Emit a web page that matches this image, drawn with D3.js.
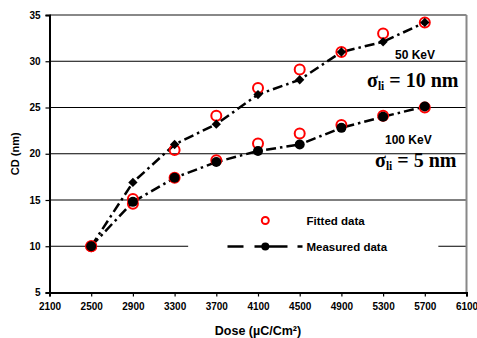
<!DOCTYPE html>
<html>
<head>
<meta charset="utf-8">
<script src="https://cdn.jsdelivr.net/npm/d3@7"></script>
<style>
  body { margin: 0; background: #fff; }
  text { font-family: Arial, "Liberation Sans", sans-serif; font-weight: bold; }
  text.serif { font-family: "Liberation Serif", "Times New Roman", serif; }
</style>
</head>
<body>
<div id="chart"></div>
<script>
const doses = [2500, 2900, 3300, 3700, 4100, 4500, 4900, 5300, 5700];
const measured50 = [10, 16.9, 21.0, 23.2, 26.4, 28.0, 31.0, 32.1, 34.2];
const fitted50 = [10, 14.6, 20.4, 24.1, 27.1, 29.1, 31.0, 33.0, 34.2];
const measured100 = [10, 14.8, 17.4, 19.1, 20.3, 21.0, 22.8, 24.0, 25.1];
const fitted100 = [10, 15.1, 17.4, 19.3, 21.1, 22.2, 23.1, 24.1, 25.0];
const xTicks = [2100, 2500, 2900, 3300, 3700, 4100, 4500, 4900, 5300, 5700, 6100];
const yTicks = [5, 10, 15, 20, 25, 30, 35];

const W = 477, H = 338;
const margin = { top: 15, right: 10.5, bottom: 45.5, left: 49.5 };
const width = W - margin.left - margin.right,
      height = H - margin.top - margin.bottom;

const svg = d3.select("#chart").append("svg")
    .attr("width", W).attr("height", H);
const g = svg.append("g")
    .attr("transform", `translate(${margin.left},${margin.top})`);

const x = d3.scaleLinear().domain([2100, 6100]).range([0, width]);
const y = d3.scaleLinear().domain([5, 35]).range([height, 0]);

// gridlines
g.selectAll(".grid")
    .data(yTicks.filter(d => d > 5 && d < 35))
    .join("line")
    .attr("x1", 0).attr("x2", width)
    .attr("y1", d => y(d)).attr("y2", d => y(d))
    .attr("stroke", "#000").attr("stroke-width", 1);

// top and right border
g.append("line").attr("x1", 0).attr("x2", width).attr("y1", y(35)).attr("y2", y(35))
    .attr("stroke", "#888").attr("stroke-width", 2);
g.append("line").attr("x1", width).attr("x2", width).attr("y1", 0).attr("y2", height)
    .attr("stroke", "#888").attr("stroke-width", 2);

// axes
const xAxis = g.append("g").attr("transform", `translate(0,${height})`)
    .call(d3.axisBottom(x).tickValues(xTicks).tickFormat(d3.format("d")).tickSizeOuter(0).tickSize(4).tickPadding(6));
const yAxis = g.append("g")
    .call(d3.axisLeft(y).tickValues(yTicks).tickSizeOuter(0).tickSize(4).tickPadding(5));
[xAxis, yAxis].forEach(a => {
    a.select(".domain").attr("stroke", "#000").attr("stroke-width", 2);
    a.selectAll(".tick line").attr("stroke", "#000").attr("stroke-width", 1.2);
    a.selectAll("text").style("font-size", "10px").attr("fill", "#000");
});

// legend box (covers gridline)
const legend = g.append("g");
legend.append("rect")
    .attr("x", x(3430)).attr("y", y(14.2))
    .attr("width", x(5830) - x(3430)).attr("height", y(6) - y(14.2))
    .attr("fill", "#fff");

// series
const line = d3.line().x((d, i) => x(doses[i])).y(d => y(d));
const dash = "10,4,2.5,4";

[measured50, measured100].forEach(s => {
    g.append("path").datum(s).attr("d", line)
        .attr("fill", "none").attr("stroke", "#000")
        .attr("stroke-width", 2.5).attr("stroke-dasharray", dash);
});

[fitted50, fitted100].forEach(s => {
    g.selectAll(null).data(s).join("circle")
        .attr("cx", (d, i) => x(doses[i])).attr("cy", d => y(d))
        .attr("r", 5).attr("fill", "none")
        .attr("stroke", "#f00").attr("stroke-width", 2);
});

g.selectAll(null).data(measured50).join("path")
    .attr("transform", (d, i) => `translate(${x(doses[i])},${y(d)})`)
    .attr("d", d3.symbol(d3.symbolDiamond2, 55))
    .attr("fill", "#000");

g.selectAll(null).data(measured100).join("circle")
    .attr("cx", (d, i) => x(doses[i])).attr("cy", d => y(d))
    .attr("r", 5).attr("fill", "#000");

// legend content
legend.append("circle").attr("cx", x(4170)).attr("cy", 205.5)
    .attr("r", 3.5).attr("fill", "none").attr("stroke", "#f00").attr("stroke-width", 2);
legend.append("text").attr("x", 257).attr("y", 209.5)
    .style("font-size", "11.5px").text("Fitted data");
legend.append("line").attr("x1", 178).attr("x2", 253).attr("y1", 231.5).attr("y2", 231.5)
    .attr("stroke", "#000").attr("stroke-width", 2.5).attr("stroke-dasharray", "16,11,33,10");
legend.append("circle").attr("cx", x(4170)).attr("cy", 231.5).attr("r", 4).attr("fill", "#000");
legend.append("text").attr("x", 257).attr("y", 235.5)
    .style("font-size", "11.5px").text("Measured data");

// annotations
svg.append("text").attr("x", 395).attr("y", 58.5).style("font-size", "12px").text("50 KeV");
const s1 = svg.append("text").attr("class", "serif").attr("x", 367).attr("y", 87)
    .style("font-size", "20px");
s1.append("tspan").text("σ");
s1.append("tspan").style("font-size", "11.5px").attr("dy", 3).text("li");
s1.append("tspan").attr("dy", -3).text(" = 10 nm");

svg.append("text").attr("x", 385).attr("y", 143.5).style("font-size", "12px").text("100 KeV");
const s2 = svg.append("text").attr("class", "serif").attr("x", 375).attr("y", 167)
    .style("font-size", "20px");
s2.append("tspan").text("σ");
s2.append("tspan").style("font-size", "11.5px").attr("dy", 3).text("li");
s2.append("tspan").attr("dy", -3).text(" = 5 nm");

// axis titles
svg.append("text")
    .attr("transform", `translate(19,${margin.top + y(20)}) rotate(-90)`)
    .attr("text-anchor", "middle").style("font-size", "11px").text("CD (nm)");
svg.append("text").attr("x", margin.left + x(4100)).attr("y", 335)
    .attr("text-anchor", "middle").style("font-size", "12.5px").text("Dose (µC/Cm²)");
</script>
</body>
</html>
